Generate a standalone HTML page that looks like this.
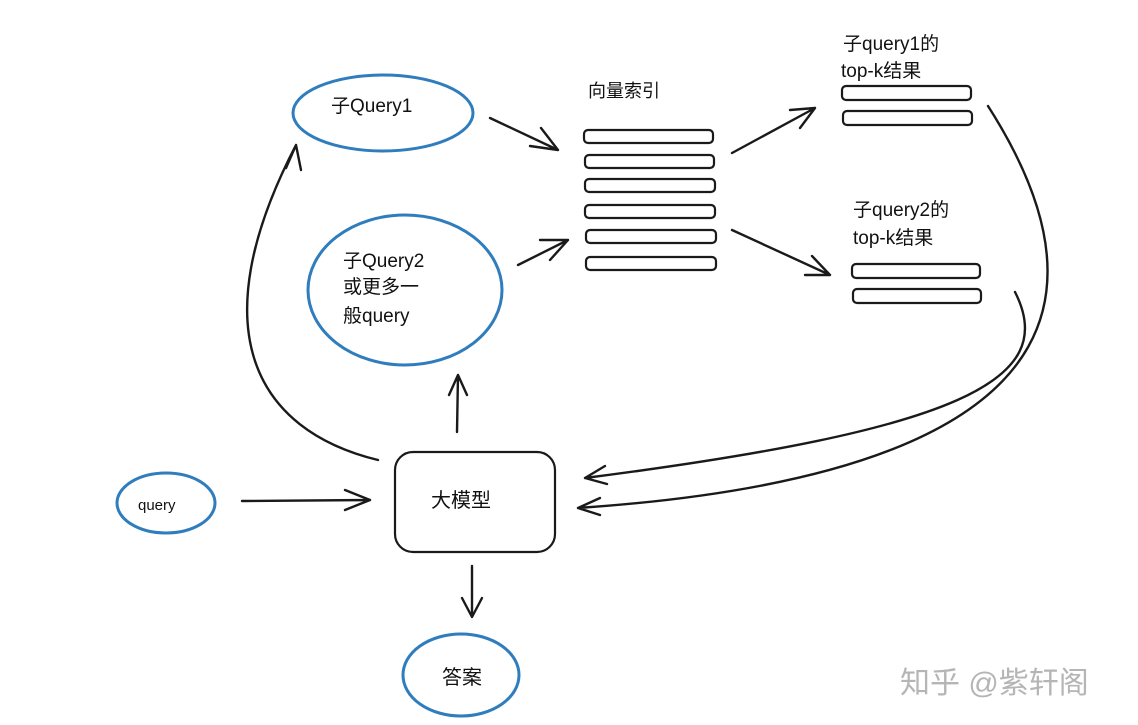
<!DOCTYPE html>
<html><head><meta charset="utf-8"><style>
html,body{margin:0;padding:0;background:#fff;}
svg{display:block;}
text{font-family:"Liberation Sans","Noto Sans CJK SC",sans-serif;fill:#111;}
</style></head><body>
<svg width="1138" height="725" viewBox="0 0 1138 725" xmlns="http://www.w3.org/2000/svg">
<g fill="none" stroke="#2f7dbd" stroke-width="3">
<ellipse cx="383" cy="113" rx="90" ry="38"/>
<ellipse cx="405" cy="290" rx="97" ry="75"/>
<ellipse cx="166" cy="503" rx="49" ry="30"/>
<ellipse cx="461" cy="675" rx="58" ry="41"/>
</g>
<g fill="none" stroke="#1a1a1a" stroke-width="2.2">
<rect x="395" y="452" width="160" height="100" rx="18"/>
<rect x="584" y="130" width="129" height="13" rx="4"/>
<rect x="585" y="155" width="129" height="13" rx="4"/>
<rect x="585" y="179" width="130" height="13" rx="4"/>
<rect x="585" y="205" width="130" height="13" rx="4"/>
<rect x="586" y="230" width="130" height="13" rx="4"/>
<rect x="586" y="257" width="130" height="13" rx="4"/>
<rect x="842" y="86" width="129" height="14" rx="4"/>
<rect x="843" y="111" width="129" height="14" rx="4"/>
<rect x="852" y="264" width="128" height="14" rx="4"/>
<rect x="853" y="289" width="128" height="14" rx="4"/>
</g>
<g fill="none" stroke="#1a1a1a" stroke-width="2.4" stroke-linecap="round" stroke-linejoin="round">
<path d="M490,118 L558,150 M530,146 L558,150 L541,128"/>
<path d="M518,265 L568,240 M540,240 L568,240 L550,260"/>
<path d="M732,153 L815,108 M790,110 L815,108 L800,128"/>
<path d="M732,230 L830,275 M812,256 L830,275 L805,275"/>
<path d="M242,501 L370,500 M345,490 L370,500 M345,510 L370,500"/>
<path d="M457,432 L458,375 M449,395 L458,375 L467,395"/>
<path d="M378,460 C255,430 200,330 296,145 M286,168 L296,145 L301,170"/>
<path d="M472,566 L472,617 M462,598 L472,617 L482,598"/>
<path d="M988,106 C1080,250 1140,470 578,508 M600,498 L578,508 M600,515 L578,508"/>
<path d="M1015,292 C1060,380 960,430 585,478 M605,466 L585,478 M607,484 L585,478"/>
</g>
<text x="331" y="112" font-size="19">子Query1</text>
<text x="343" y="267" font-size="19">子Query2</text>
<text x="343" y="293" font-size="19">或更多一</text>
<text x="343" y="322" font-size="19">般query</text>
<text x="138" y="510" font-size="15">query</text>
<text x="431" y="507" font-size="20">大模型</text>
<text x="442" y="684" font-size="20">答案</text>
<text x="588" y="97" font-size="18">向量索引</text>
<text x="843" y="50" font-size="19">子query1的</text>
<text x="841" y="77" font-size="19">top-k结果</text>
<text x="853" y="216" font-size="19">子query2的</text>
<text x="853" y="244" font-size="19">top-k结果</text>
<text x="900" y="693" font-size="30" style="fill:#b5b5b5">知乎 @紫轩阁</text>
</svg>
</body></html>
